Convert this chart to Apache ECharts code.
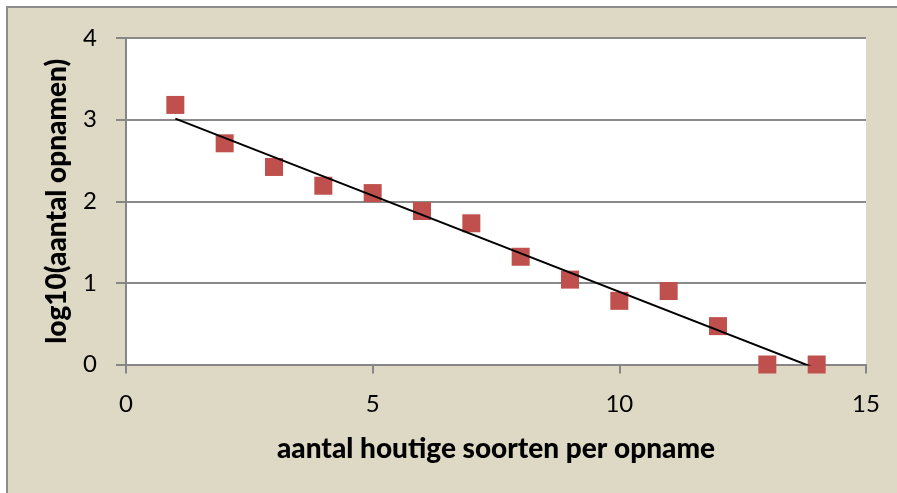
<!DOCTYPE html>
<html>
<head>
<meta charset="utf-8">
<script src="https://cdn.jsdelivr.net/npm/echarts@6/dist/echarts.min.js"></script>
<style>
html,body{margin:0;padding:0;background:#fff;}
#c{width:897px;height:493px;}
</style>
</head>
<body>
<div id="c"></div>
<script>
// Data
const xValues = [1, 2, 3, 4, 5, 6, 7, 8, 9, 10, 11, 12, 13, 14];
const yValues = [3.18, 2.71, 2.42, 2.19, 2.10, 1.88, 1.73, 1.32, 1.04, 0.78, 0.90, 0.47, 0, 0];
const xTitle = 'aantal houtige soorten per opname';
const yTitle = 'log10(aantal opnamen)';

// Linear trendline (least squares) from the data
const n = xValues.length;
const mx = xValues.reduce((a, b) => a + b, 0) / n;
const my = yValues.reduce((a, b) => a + b, 0) / n;
let sxy = 0, sxx = 0;
for (let i = 0; i < n; i++) { sxy += (xValues[i] - mx) * (yValues[i] - my); sxx += (xValues[i] - mx) ** 2; }
const slope = sxy / sxx;
const intercept = my - slope * mx;
const xMin = Math.min(...xValues), xMax = Math.max(...xValues);
const trend = [[xMin, intercept + slope * xMin], [xMax, intercept + slope * xMax]];

const chart = echarts.init(document.getElementById('c'), null, {renderer: 'canvas'});
const font = 'Lato, "Open Sans", sans-serif';
chart.setOption({
  animation: false,
  backgroundColor: '#ffffff',
  graphic: [{
    type: 'rect', z: -10, silent: true,
    shape: {x: 7, y: 7, width: 900, height: 500},
    style: {fill: '#DDD9C4', stroke: '#8C8C8C', lineWidth: 2}
  }],
  grid: {left: 126, right: 31, top: 38, bottom: 128.5, show: true, backgroundColor: '#ffffff', borderWidth: 0},
  xAxis: {
    type: 'value', min: 0, max: 15, interval: 5,
    name: xTitle, nameLocation: 'middle', nameGap: 70,
    nameTextStyle: {fontFamily: font, fontWeight: 900, fontSize: 28, color: '#000'},
    axisLine: {show: true, onZero: false, lineStyle: {color: '#868686', width: 2}},
    axisTick: {show: true, length: 9, lineStyle: {color: '#868686', width: 2}},
    axisLabel: {margin: 28, fontFamily: font, fontSize: 24, color: '#000'},
    splitLine: {show: false}
  },
  yAxis: {
    type: 'value', min: 0, max: 4, interval: 1,
    name: yTitle, nameLocation: 'middle', nameGap: 55,
    nameTextStyle: {fontFamily: font, fontWeight: 900, fontSize: 28, color: '#000'},
    axisLine: {show: true, lineStyle: {color: '#868686', width: 2}},
    axisTick: {show: true, length: 10, lineStyle: {color: '#868686', width: 2}},
    axisLabel: {margin: 29, fontFamily: font, fontSize: 24, color: '#000'},
    splitLine: {show: true, lineStyle: {color: '#8A8A8A', width: 2}}
  },
  series: [
    {
      type: 'scatter', symbol: 'rect', symbolSize: 18, z: 3,
      itemStyle: {color: '#C0504D', opacity: 1},
      data: xValues.map((x, i) => [x, yValues[i]])
    },
    {
      type: 'line', data: trend, symbol: 'none', z: 4, clip: true,
      lineStyle: {color: '#000', width: 2}
    }
  ]
});
</script>
</body>
</html>
